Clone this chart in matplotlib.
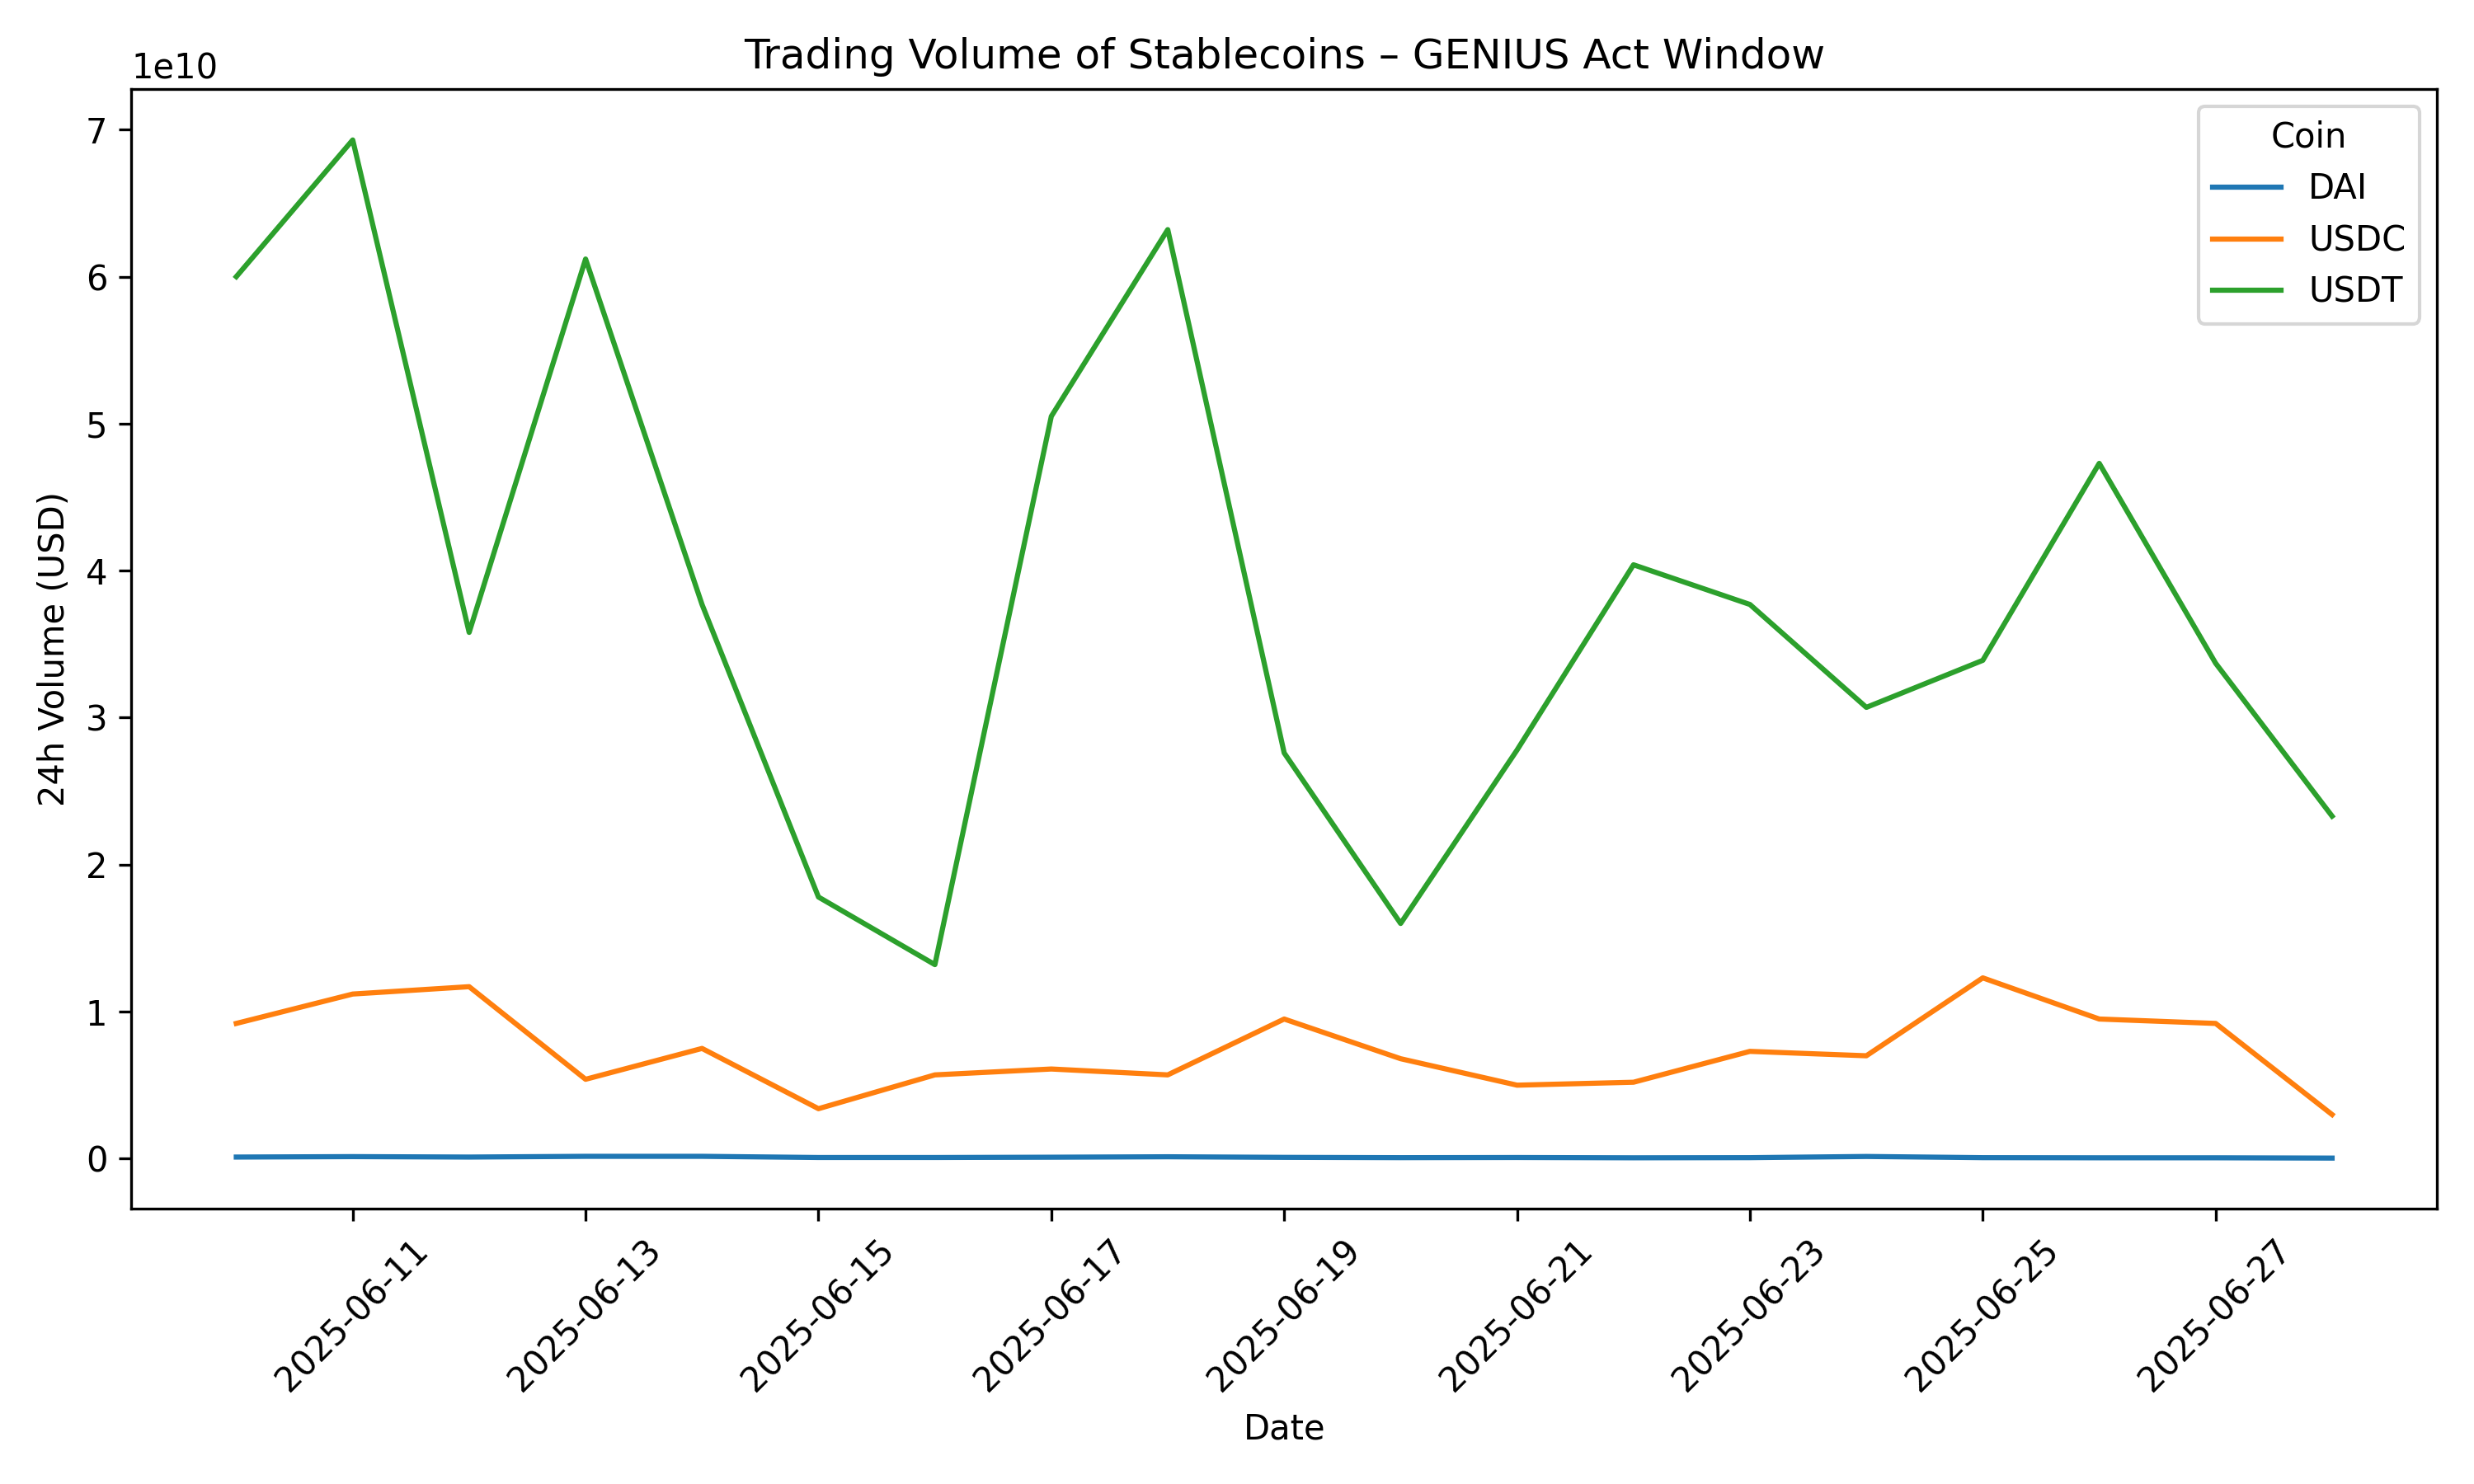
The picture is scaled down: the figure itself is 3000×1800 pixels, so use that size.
import matplotlib
matplotlib.use("Agg")
import matplotlib.pyplot as plt
import pandas as pd

dates = pd.date_range("2025-06-10", "2025-06-28", freq="D")

usdt = [6.00, 6.93, 3.58, 6.12, 3.77, 1.78, 1.32, 5.05, 6.32, 2.76, 1.60,
        2.78, 4.04, 3.77, 3.07, 3.39, 4.73, 3.37, 2.33]
usdc = [0.92, 1.12, 1.17, 0.54, 0.75, 0.34, 0.57, 0.61, 0.57, 0.95, 0.68,
        0.50, 0.52, 0.73, 0.70, 1.23, 0.95, 0.92, 0.30]
dai = [0.011, 0.014, 0.011, 0.016, 0.016, 0.008, 0.008, 0.010, 0.013, 0.009,
       0.007, 0.008, 0.006, 0.007, 0.015, 0.007, 0.006, 0.006, 0.004]

coins = ["DAI", "USDC", "USDT"]
volumes = {"DAI": dai, "USDC": usdc, "USDT": usdt}

fig, ax = plt.subplots(figsize=(10, 6), dpi=300)

for coin in coins:
    ax.plot(dates, [v * 1e10 for v in volumes[coin]], label=coin)

ax.set_title("Trading Volume of Stablecoins \u2013 GENIUS Act Window")
ax.set_xlabel("Date")
ax.set_ylabel("24h Volume (USD)")
plt.xticks(rotation=45)
ax.legend(title="Coin", loc="upper right")

plt.tight_layout()
plt.savefig("out.png")
plt.close(fig)
